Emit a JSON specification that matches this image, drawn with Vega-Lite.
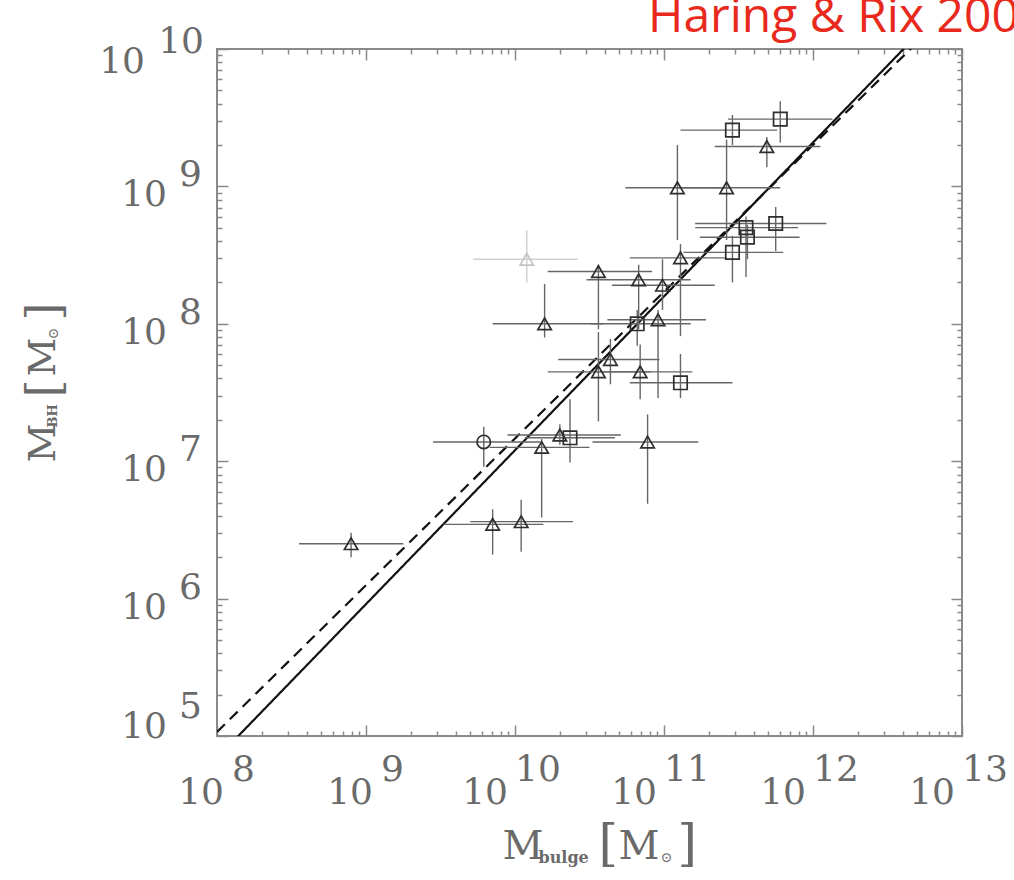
{
  "$schema": "https://vega.github.io/schema/vega-lite/v6.json",
  "width": 745,
  "height": 687,
  "autosize": {"type": "none"},
  "padding": {"left": 217, "top": 49, "right": 52, "bottom": 144},
  "background": "white",
  "config": {"view": {"stroke": "#8a8a8a", "strokeWidth": 2}, "font": "DejaVu Serif"},
  "datasets": {
    "fits": [
      {"fit": "solid", "x": 1e8, "y": 6.92e4},
      {"fit": "solid", "x": 1e13, "y": 2.75e10},
      {"fit": "dashed", "x": 1e8, "y": 1.07e5},
      {"fit": "dashed", "x": 1e13, "y": 2.34e10}
    ],
    "pts": [
      {"type":"tri","x":7.94e8,"xlo":3.55e8,"xhi":1.78e9,"y":2.51e6,"ylo":2.00e6,"yhi":3.02e6},
      {"type":"tri","x":7.08e9,"xlo":3.31e9,"xhi":1.55e10,"y":3.47e6,"ylo":2.09e6,"yhi":4.47e6},
      {"type":"tri","x":1.10e10,"xlo":5.01e9,"xhi":2.45e10,"y":3.63e6,"ylo":2.19e6,"yhi":5.25e6},
      {"type":"circ","x":6.17e9,"xlo":2.82e9,"xhi":1.48e10,"y":1.38e7,"ylo":9.12e6,"yhi":1.78e7},
      {"type":"tri","x":1.51e10,"xlo":6.76e9,"xhi":3.16e10,"y":1.26e7,"ylo":3.89e6,"yhi":1.45e7},
      {"type":"tri","x":2.00e10,"xlo":8.91e9,"xhi":5.13e10,"y":1.55e7,"ylo":1.32e7,"yhi":1.86e7},
      {"type":"sq","x":2.34e10,"xlo":1.17e10,"xhi":4.68e10,"y":1.48e7,"ylo":9.77e6,"yhi":2.82e7},
      {"type":"tri","x":7.76e10,"xlo":3.31e10,"xhi":1.70e11,"y":1.38e7,"ylo":4.90e6,"yhi":2.19e7},
      {"type":"tri","x":3.63e10,"xlo":1.66e10,"xhi":8.13e10,"y":4.47e7,"ylo":1.95e7,"yhi":8.71e7},
      {"type":"tri","x":4.37e10,"xlo":1.95e10,"xhi":9.33e10,"y":5.50e7,"ylo":3.63e7,"yhi":7.76e7},
      {"type":"tri","x":6.92e10,"xlo":3.47e10,"xhi":1.55e11,"y":4.47e7,"ylo":2.82e7,"yhi":7.08e7},
      {"type":"sq","x":1.29e11,"xlo":5.89e10,"xhi":2.88e11,"y":3.72e7,"ylo":2.88e7,"yhi":6.03e7},
      {"type":"tri","x":1.58e10,"xlo":7.08e9,"xhi":3.89e10,"y":1.00e8,"ylo":7.94e7,"yhi":1.95e8},
      {"type":"tri","x":9.12e10,"xlo":4.17e10,"xhi":1.91e11,"y":1.07e8,"ylo":2.88e7,"yhi":1.26e8},
      {"type":"sq","x":6.61e10,"xlo":3.24e10,"xhi":1.51e11,"y":1.00e8,"ylo":6.92e7,"yhi":1.26e8},
      {"type":"tri","x":3.63e10,"xlo":1.66e10,"xhi":8.32e10,"y":2.40e8,"ylo":9.12e7,"yhi":2.69e8},
      {"type":"tri","x":6.76e10,"xlo":3.02e10,"xhi":1.51e11,"y":2.09e8,"ylo":9.12e7,"yhi":2.69e8},
      {"type":"tri","x":9.77e10,"xlo":4.47e10,"xhi":2.19e11,"y":1.91e8,"ylo":1.26e8,"yhi":2.95e8},
      {"type":"tri","x":1.29e11,"xlo":5.89e10,"xhi":2.63e11,"y":3.02e8,"ylo":8.13e7,"yhi":3.80e8},
      {"type":"faint","x":1.20e10,"xlo":5.25e9,"xhi":2.63e10,"y":2.95e8,"ylo":2.00e8,"yhi":4.79e8},
      {"type":"sq","x":2.88e11,"xlo":1.35e11,"xhi":6.31e11,"y":3.31e8,"ylo":2.00e8,"yhi":4.37e8},
      {"type":"sq","x":3.55e11,"xlo":1.62e11,"xhi":7.94e11,"y":5.01e8,"ylo":2.19e8,"yhi":6.03e8},
      {"type":"sq","x":3.63e11,"xlo":1.74e11,"xhi":8.13e11,"y":4.27e8,"ylo":2.95e8,"yhi":5.25e8},
      {"type":"sq","x":5.62e11,"xlo":1.62e11,"xhi":1.23e12,"y":5.37e8,"ylo":3.39e8,"yhi":7.08e8},
      {"type":"tri","x":1.23e11,"xlo":5.50e10,"xhi":2.75e11,"y":9.77e8,"ylo":4.07e8,"yhi":2.00e9},
      {"type":"tri","x":2.63e11,"xlo":1.20e11,"xhi":6.03e11,"y":9.77e8,"ylo":4.07e8,"yhi":2.19e9},
      {"type":"sq","x":2.88e11,"xlo":1.29e11,"xhi":5.75e11,"y":2.57e9,"ylo":2.00e9,"yhi":3.31e9},
      {"type":"sq","x":6.03e11,"xlo":2.69e11,"xhi":1.35e12,"y":3.09e9,"ylo":2.09e9,"yhi":4.17e9},
      {"type":"tri","x":4.90e11,"xlo":2.19e11,"xhi":1.12e12,"y":1.95e9,"ylo":1.38e9,"yhi":2.29e9}
    ],
    "xlab": [
      {"v": 1e8, "e": "8"}, {"v": 1e9, "e": "9"}, {"v": 1e10, "e": "10"},
      {"v": 1e11, "e": "11"}, {"v": 1e12, "e": "12"}, {"v": 1e13, "e": "13"}
    ],
    "ylab": [
      {"v": 1e5, "e": "5"}, {"v": 1e6, "e": "6"}, {"v": 1e7, "e": "7"},
      {"v": 1e8, "e": "8"}, {"v": 1e9, "e": "9"}, {"v": 1e10, "e": "10"}
    ]
  },
  "layer": [
    {
      "data": {"name": "fits"},
      "mark": {"type": "line", "clip": true, "color": "#111", "strokeWidth": 2.2},
      "encoding": {
        "x": {"field": "x", "type": "quantitative",
          "scale": {"type": "log", "domain": [1e8, 1e13], "nice": false},
          "axis": {"orient": "bottom", "values": [1e8,2e8,3e8,4e8,5e8,6e8,7e8,8e8,9e8,1e9,2e9,3e9,4e9,5e9,6e9,7e9,8e9,9e9,1e10,2e10,3e10,4e10,5e10,6e10,7e10,8e10,9e10,1e11,2e11,3e11,4e11,5e11,6e11,7e11,8e11,9e11,1e12,2e12,3e12,4e12,5e12,6e12,7e12,8e12,9e12,1e13],
            "labels": false, "domain": false, "grid": false, "title": null, "tickColor": "#888", "tickWidth": 1.5,
            "tickSize": {"condition": {"test": "abs(log(datum.value)/LN10 - round(log(datum.value)/LN10)) < 0.001", "value": -11}, "value": -5}}},
        "y": {"field": "y", "type": "quantitative",
          "scale": {"type": "log", "domain": [1e5, 1e10], "nice": false},
          "axis": {"orient": "left", "values": [1e5,2e5,3e5,4e5,5e5,6e5,7e5,8e5,9e5,1e6,2e6,3e6,4e6,5e6,6e6,7e6,8e6,9e6,1e7,2e7,3e7,4e7,5e7,6e7,7e7,8e7,9e7,1e8,2e8,3e8,4e8,5e8,6e8,7e8,8e8,9e8,1e9,2e9,3e9,4e9,5e9,6e9,7e9,8e9,9e9,1e10],
            "labels": false, "domain": false, "grid": false, "title": null, "tickColor": "#888", "tickWidth": 1.5,
            "tickSize": {"condition": {"test": "abs(log(datum.value)/LN10 - round(log(datum.value)/LN10)) < 0.001", "value": -11}, "value": -5}}},
        "detail": {"field": "fit", "type": "nominal"},
        "strokeDash": {"field": "fit", "type": "nominal", "scale": {"domain": ["solid", "dashed"], "range": [[1, 0], [11, 7]]}, "legend": null}
      }
    },
    {
      "data": {"name": "pts"},
      "mark": {"type": "rule", "strokeWidth": 1.4},
      "encoding": {
        "x": {"field": "xlo", "type": "quantitative", "axis": null},
        "x2": {"field": "xhi"},
        "y": {"field": "y", "type": "quantitative", "axis": null},
        "color": {"condition": {"test": "datum.type === 'faint'", "value": "#cfcfcf"}, "value": "#666666"}
      }
    },
    {
      "data": {"name": "pts"},
      "mark": {"type": "rule", "strokeWidth": 1.4},
      "encoding": {
        "x": {"field": "x", "type": "quantitative", "axis": null},
        "y": {"field": "ylo", "type": "quantitative", "axis": null},
        "y2": {"field": "yhi"},
        "color": {"condition": {"test": "datum.type === 'faint'", "value": "#cfcfcf"}, "value": "#666666"}
      }
    },
    {
      "data": {"name": "pts"},
      "mark": {"type": "point", "filled": false, "size": 180, "strokeWidth": 1.7, "opacity": 1},
      "encoding": {
        "x": {"field": "x", "type": "quantitative",
          "axis": {"orient": "top", "values": [1e8,2e8,3e8,4e8,5e8,6e8,7e8,8e8,9e8,1e9,2e9,3e9,4e9,5e9,6e9,7e9,8e9,9e9,1e10,2e10,3e10,4e10,5e10,6e10,7e10,8e10,9e10,1e11,2e11,3e11,4e11,5e11,6e11,7e11,8e11,9e11,1e12,2e12,3e12,4e12,5e12,6e12,7e12,8e12,9e12,1e13],
            "labels": false, "domain": false, "grid": false, "title": null, "tickColor": "#888", "tickWidth": 1.5,
            "tickSize": {"condition": {"test": "abs(log(datum.value)/LN10 - round(log(datum.value)/LN10)) < 0.001", "value": -11}, "value": -5}}},
        "y": {"field": "y", "type": "quantitative",
          "axis": {"orient": "right", "values": [1e5,2e5,3e5,4e5,5e5,6e5,7e5,8e5,9e5,1e6,2e6,3e6,4e6,5e6,6e6,7e6,8e6,9e6,1e7,2e7,3e7,4e7,5e7,6e7,7e7,8e7,9e7,1e8,2e8,3e8,4e8,5e8,6e8,7e8,8e8,9e8,1e9,2e9,3e9,4e9,5e9,6e9,7e9,8e9,9e9,1e10],
            "labels": false, "domain": false, "grid": false, "title": null, "tickColor": "#888", "tickWidth": 1.5,
            "tickSize": {"condition": {"test": "abs(log(datum.value)/LN10 - round(log(datum.value)/LN10)) < 0.001", "value": -11}, "value": -5}}},
        "shape": {"field": "type", "type": "nominal", "scale": {"domain": ["tri", "sq", "circ", "faint"], "range": ["triangle-up", "square", "circle", "triangle-up"]}, "legend": null},
        "color": {"condition": {"test": "datum.type === 'faint'", "value": "#c4c4c4"}, "value": "#2e2e2e"}
      }
    },
    {
      "data": {"name": "xlab"},
      "transform": [{"filter": "datum.v < 5e9"}],
      "mark": {"type": "text", "align": "right", "baseline": "alphabetic", "dx": 7, "dy": 68, "fontSize": 36, "color": "#6a6a6a"},
      "encoding": {"x": {"field": "v", "type": "quantitative", "axis": null}, "y": {"datum": 100000, "axis": null}, "text": {"value": "10"}}
    },
    {
      "data": {"name": "xlab"},
      "transform": [{"filter": "datum.v > 5e9"}],
      "mark": {"type": "text", "align": "right", "baseline": "alphabetic", "dx": -7, "dy": 68, "fontSize": 36, "color": "#6a6a6a"},
      "encoding": {"x": {"field": "v", "type": "quantitative", "axis": null}, "y": {"datum": 100000, "axis": null}, "text": {"value": "10"}}
    },
    {
      "data": {"name": "xlab"},
      "transform": [{"filter": "datum.v < 5e9"}],
      "mark": {"type": "text", "align": "left", "baseline": "alphabetic", "dx": 15, "dy": 45, "fontSize": 36, "color": "#6a6a6a"},
      "encoding": {"x": {"field": "v", "type": "quantitative", "axis": null}, "y": {"datum": 100000, "axis": null}, "text": {"field": "e"}}
    },
    {
      "data": {"name": "xlab"},
      "transform": [{"filter": "datum.v > 5e9"}],
      "mark": {"type": "text", "align": "left", "baseline": "alphabetic", "dx": 0, "dy": 45, "fontSize": 36, "color": "#6a6a6a"},
      "encoding": {"x": {"field": "v", "type": "quantitative", "axis": null}, "y": {"datum": 100000, "axis": null}, "text": {"field": "e"}}
    },
    {
      "data": {"name": "ylab"},
      "transform": [{"filter": "datum.v > 5e5 && datum.v < 5e9"}],
      "mark": {"type": "text", "align": "right", "baseline": "alphabetic", "dx": -50, "dy": 20, "fontSize": 36, "color": "#6a6a6a"},
      "encoding": {"x": {"datum": 100000000, "axis": null}, "y": {"field": "v", "type": "quantitative", "axis": null}, "text": {"value": "10"}}
    },
    {
      "data": {"name": "ylab"},
      "transform": [{"filter": "datum.v < 5e5"}],
      "mark": {"type": "text", "align": "right", "baseline": "alphabetic", "dx": -50, "dy": 2, "fontSize": 36, "color": "#6a6a6a"},
      "encoding": {"x": {"datum": 100000000, "axis": null}, "y": {"field": "v", "type": "quantitative", "axis": null}, "text": {"value": "10"}}
    },
    {
      "data": {"name": "ylab"},
      "transform": [{"filter": "datum.v > 5e9"}],
      "mark": {"type": "text", "align": "right", "baseline": "alphabetic", "dx": -72, "dy": 24, "fontSize": 36, "color": "#6a6a6a"},
      "encoding": {"x": {"datum": 100000000, "axis": null}, "y": {"field": "v", "type": "quantitative", "axis": null}, "text": {"value": "10"}}
    },
    {
      "data": {"name": "ylab"},
      "transform": [{"filter": "datum.v > 5e5 && datum.v < 5e9"}],
      "mark": {"type": "text", "align": "right", "baseline": "alphabetic", "dx": -15, "dy": 0, "fontSize": 36, "color": "#6a6a6a"},
      "encoding": {"x": {"datum": 100000000, "axis": null}, "y": {"field": "v", "type": "quantitative", "axis": null}, "text": {"field": "e"}}
    },
    {
      "data": {"name": "ylab"},
      "transform": [{"filter": "datum.v > 5e9"}],
      "mark": {"type": "text", "align": "right", "baseline": "alphabetic", "dx": -13, "dy": 4, "fontSize": 36, "color": "#6a6a6a"},
      "encoding": {"x": {"datum": 100000000, "axis": null}, "y": {"field": "v", "type": "quantitative", "axis": null}, "text": {"field": "e"}}
    },
    {
      "data": {"name": "ylab"},
      "transform": [{"filter": "datum.v < 5e5"}],
      "mark": {"type": "text", "align": "right", "baseline": "alphabetic", "dx": -15, "dy": -18, "fontSize": 36, "color": "#6a6a6a"},
      "encoding": {"x": {"datum": 100000000, "axis": null}, "y": {"field": "v", "type": "quantitative", "axis": null}, "text": {"field": "e"}}
    },
    {
      "data": {"values": [{"t": "M"}]},
      "mark": {"type": "text", "align": "left", "baseline": "alphabetic", "dx": -87, "dy": 123, "fontSize": 40, "color": "#6a6a6a"},
      "encoding": {"x": {"datum": 31622776602, "axis": null}, "y": {"datum": 100000, "axis": null}, "text": {"field": "t"}}
    },
    {
      "data": {"values": [{"t": "bulge"}]},
      "mark": {"type": "text", "align": "left", "baseline": "alphabetic", "dx": -51, "dy": 127, "fontSize": 16, "fontWeight": "bold", "color": "#6a6a6a"},
      "encoding": {"x": {"datum": 31622776602, "axis": null}, "y": {"datum": 100000, "axis": null}, "text": {"field": "t"}}
    },
    {
      "data": {"values": [{"t": "["}]},
      "mark": {"type": "text", "align": "left", "baseline": "alphabetic", "dx": 9, "dy": 124, "fontSize": 50, "color": "#6a6a6a"},
      "encoding": {"x": {"datum": 31622776602, "axis": null}, "y": {"datum": 100000, "axis": null}, "text": {"field": "t"}}
    },
    {
      "data": {"values": [{"t": "M"}]},
      "mark": {"type": "text", "align": "left", "baseline": "alphabetic", "dx": 29, "dy": 123, "fontSize": 40, "color": "#6a6a6a"},
      "encoding": {"x": {"datum": 31622776602, "axis": null}, "y": {"datum": 100000, "axis": null}, "text": {"field": "t"}}
    },
    {
      "data": {"values": [{"t": "⊙"}]},
      "mark": {"type": "text", "align": "left", "baseline": "alphabetic", "dx": 71, "dy": 126, "fontSize": 14, "color": "#6a6a6a"},
      "encoding": {"x": {"datum": 31622776602, "axis": null}, "y": {"datum": 100000, "axis": null}, "text": {"field": "t"}}
    },
    {
      "data": {"values": [{"t": "]"}]},
      "mark": {"type": "text", "align": "left", "baseline": "alphabetic", "dx": 88, "dy": 124, "fontSize": 50, "color": "#6a6a6a"},
      "encoding": {"x": {"datum": 31622776602, "axis": null}, "y": {"datum": 100000, "axis": null}, "text": {"field": "t"}}
    },
    {
      "data": {"values": [{"t": "M"}]},
      "mark": {"type": "text", "align": "left", "baseline": "alphabetic", "angle": 270, "dx": -70, "dy": -162, "fontSize": 38, "color": "#6a6a6a"},
      "encoding": {"x": {"datum": 100000000, "axis": null}, "y": {"datum": 31622776.6, "axis": null}, "text": {"field": "t"}}
    },
    {
      "data": {"values": [{"t": "BH"}]},
      "mark": {"type": "text", "align": "left", "baseline": "alphabetic", "angle": 270, "dx": -35, "dy": -160, "fontSize": 13, "fontWeight": "bold", "color": "#6a6a6a"},
      "encoding": {"x": {"datum": 100000000, "axis": null}, "y": {"datum": 31622776.6, "axis": null}, "text": {"field": "t"}}
    },
    {
      "data": {"values": [{"t": "["}]},
      "mark": {"type": "text", "align": "left", "baseline": "alphabetic", "angle": 270, "dx": -5, "dy": -157, "fontSize": 46, "color": "#6a6a6a"},
      "encoding": {"x": {"datum": 100000000, "axis": null}, "y": {"datum": 31622776.6, "axis": null}, "text": {"field": "t"}}
    },
    {
      "data": {"values": [{"t": "M"}]},
      "mark": {"type": "text", "align": "left", "baseline": "alphabetic", "angle": 270, "dx": 16, "dy": -162, "fontSize": 38, "color": "#6a6a6a"},
      "encoding": {"x": {"datum": 100000000, "axis": null}, "y": {"datum": 31622776.6, "axis": null}, "text": {"field": "t"}}
    },
    {
      "data": {"values": [{"t": "⊙"}]},
      "mark": {"type": "text", "align": "left", "baseline": "alphabetic", "angle": 270, "dx": 53, "dy": -159, "fontSize": 14, "color": "#6a6a6a"},
      "encoding": {"x": {"datum": 100000000, "axis": null}, "y": {"datum": 31622776.6, "axis": null}, "text": {"field": "t"}}
    },
    {
      "data": {"values": [{"t": "]"}]},
      "mark": {"type": "text", "align": "left", "baseline": "alphabetic", "angle": 270, "dx": 72, "dy": -157, "fontSize": 46, "color": "#6a6a6a"},
      "encoding": {"x": {"datum": 100000000, "axis": null}, "y": {"datum": 31622776.6, "axis": null}, "text": {"field": "t"}}
    },
    {
      "data": {"values": [{"t": "Haring & Rix 2004"}]},
      "mark": {"type": "text", "align": "left", "baseline": "alphabetic", "dx": 431, "dy": -17, "font": "Open Sans", "fontSize": 48, "color": "#e8291c"},
      "encoding": {"x": {"datum": 100000000, "axis": null}, "y": {"datum": 10000000000, "axis": null}, "text": {"field": "t"}}
    }
  ],
  "resolve": {"axis": {"x": "independent", "y": "independent"}}
}
